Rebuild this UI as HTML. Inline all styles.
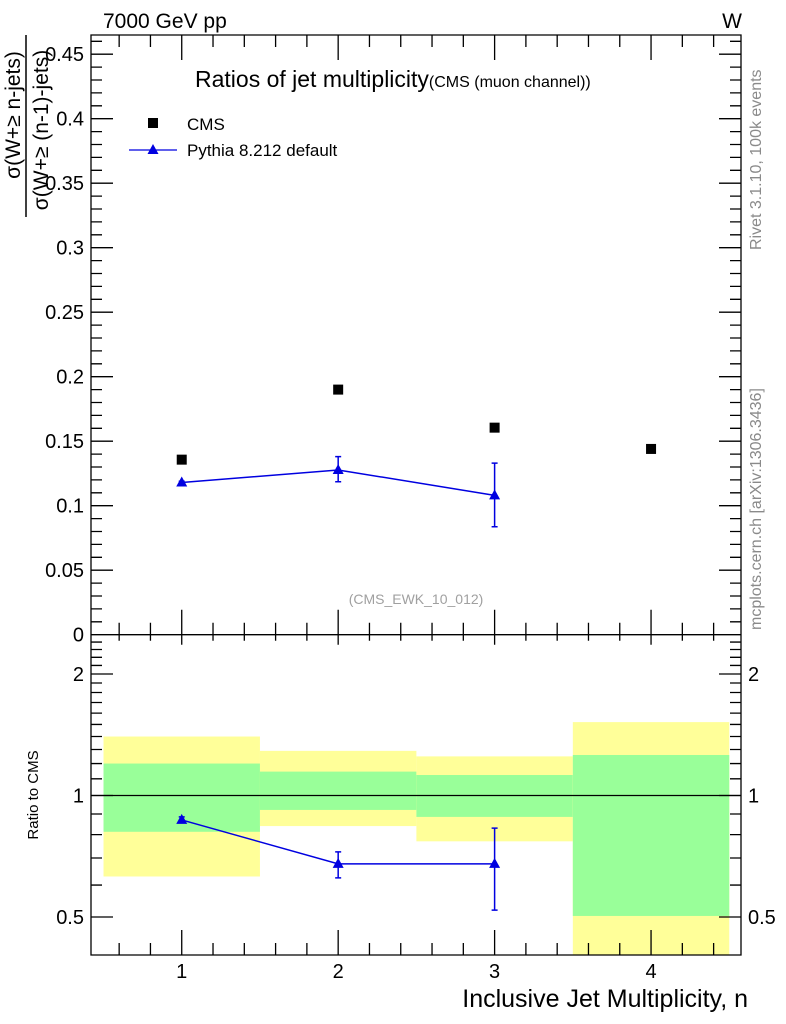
<!DOCTYPE html>
<html><head><meta charset="utf-8"><style>
body{margin:0;background:#fff;}
svg{display:block;font-family:"Liberation Sans",Arial,sans-serif;}
</style></head><body>
<svg id="chart" width="786" height="1024" viewBox="0 0 786 1024" xmlns="http://www.w3.org/2000/svg">
<g id="bands"></g>
<g id="marks"></g>
<g id="axes"></g>
<text x="103" y="28" font-size="21">7000 GeV pp</text>
<text x="742" y="28" font-size="21" text-anchor="end">W</text>
<text x="195" y="87" font-size="23">Ratios of jet multiplicity<tspan font-size="16">(CMS (muon channel))</tspan></text>
<rect x="148" y="118" width="10" height="10" fill="#000"/>
<text x="187" y="130" font-size="17">CMS</text>
<line x1="129" y1="150" x2="177" y2="150" stroke="#0000e0" stroke-width="1.3"/>
<polygon points="153,144 147.5,154 158.5,154" fill="#0000e0"/>
<text x="187" y="156" font-size="17">Pythia 8.212 default</text>
<text x="416" y="604" font-size="14" fill="#a0a0a0" text-anchor="middle">(CMS_EWK_10_012)</text>
<text transform="translate(761,250) rotate(-90)" font-size="16" fill="#8a8a8a">Rivet 3.1.10,  100k events</text>
<text transform="translate(761,630) rotate(-90)" font-size="16" fill="#8a8a8a">mcplots.cern.ch [arXiv:1306.3436]</text>
<text transform="translate(20,115) rotate(-90)" font-size="21" text-anchor="middle">σ(W+≥ n-jets)</text>
<line x1="26" y1="35" x2="26" y2="217" stroke="#000" stroke-width="1.5"/>
<text transform="translate(48,130) rotate(-90)" font-size="21" text-anchor="middle">σ(W+≥ (n-1)-jets)</text>
<text transform="translate(38,795) rotate(-90)" font-size="15" text-anchor="middle">Ratio to CMS</text>
<text x="748" y="1007" font-size="25" text-anchor="end">Inclusive Jet Multiplicity, n</text>
</svg>
<script>
const categories=[1,2,3,4];
const cmsValues=[0.1357,0.190,0.1605,0.144];
const pythiaValues=[0.118,0.1277,0.108];
const pythiaErrLo=[0.117,0.1186,0.0837];
const pythiaErrHi=[0.119,0.138,0.133];
const ratioValues=[0.87,0.677,0.677];
const ratioErrLo=[0.86,0.625,0.52];
const ratioErrHi=[0.885,0.725,0.83];
const greenLo=[0.813,0.921,0.885,0.503];
const greenHi=[1.20,1.146,1.124,1.26];
const yellowLo=[0.63,0.84,0.77,0.3];
const yellowHi=[1.40,1.29,1.25,1.52];
const mainTicks=[0,0.05,0.1,0.15,0.2,0.25,0.3,0.35,0.4,0.45];
const mainTickLabels=["0","0.05","0.1","0.15","0.2","0.25","0.3","0.35","0.4","0.45"];
const ratioTicks=[0.5,1,2];
const ratioTickLabels=["0.5","1","2"];

const L=91,R=741,T=35,MB=634.7,RB=955;
const xmin=0.42,xmax=4.575;
const X=v=>L+(v-xmin)/(xmax-xmin)*(R-L);
const Y=v=>MB-v*1290;
const RY=v=>795.5-Math.log2(v)*121.5;
const NS='http://www.w3.org/2000/svg';
function mk(parent,tag,attrs){const e=document.createElementNS(NS,tag);for(const k in attrs)e.setAttribute(k,attrs[k]);document.getElementById(parent).appendChild(e);return e;}

categories.forEach((c,i)=>{
 const x1=Math.max(X(c-0.5),L),x2=Math.min(X(c+0.5),R);
 const yt=RY(yellowHi[i]),yb=Math.min(RY(yellowLo[i]),RB);
 const y=mk('bands','rect',{x:x1,y:yt,width:x2-x1,height:yb-yt,fill:'#ffff99'});
 
 
 const gt=RY(greenHi[i]),gb=Math.min(RY(greenLo[i]),RB);
 const g=mk('bands','rect',{x:x1,y:gt,width:x2-x1,height:gb-gt,fill:'#99ff99'});
 
 
});
const one=mk('bands','line',{x1:L,x2:R,y1:RY(1),y2:RY(1),stroke:'#000','stroke-width':1.2});



cmsValues.forEach((v,i)=>{
 const r=mk('marks','rect',{x:X(categories[i])-5,y:Y(v)-5,width:10,height:10,fill:'#000'});
 
 
});
function series(vals,lo,hi,fy,name){
 const pts=vals.map((v,i)=>X(categories[i])+','+fy(v)).join(' ');
 const pl=mk('marks','polyline',{points:pts,fill:'none',stroke:'#0000e0','stroke-width':1.5});
 
 
 vals.forEach((v,i)=>{
  const x=X(categories[i]),y=fy(v),y1=fy(hi[i]),y2=fy(lo[i]);
  const e=mk('marks','path',{d:`M${x},${y1}V${y2}M${x-3},${y1}H${x+3}M${x-3},${y2}H${x+3}`,stroke:'#0000e0','stroke-width':1.5,fill:'none'});
  
  
  const t=mk('marks','polygon',{points:`${x},${y-6} ${x-5.5},${y+4} ${x+5.5},${y+4}`,fill:'#0000e0'});
  
  
 });
}
series(pythiaValues,pythiaErrLo,pythiaErrHi,Y,'pythia');
series(ratioValues,ratioErrLo,ratioErrHi,RY,'pythia-ratio');

const ax='axes';
let d=`M${L},${T}H${R}V${RB}H${L}Z M${L},${MB}H${R}`;
for(let k=0;k<=46;k++){const v=k*0.01,y=Y(v);if(y<T)continue;const len=k%5==0?22:11;d+=`M${L},${y}h${len}M${R},${y}h${-len}`;}
for(let k=0;k*0.2+0.6<=4.5;k++){const v=0.6+k*0.2;const x=X(v);const maj=Math.abs(v-Math.round(v))<1e-6;const len=maj?25:12;
 d+=`M${x},${T}v${len}M${x},${MB}v${-len}M${x},${MB}v${maj?10:6}M${x},${RB}v${-(maj?25:12)}`;}
const rminor=[0.4,0.5,0.6,0.7,0.8,0.9,1,1.1,1.2,1.3,1.4,1.5,1.6,1.7,1.8,1.9,2,2.1,2.2,2.3,2.4];
rminor.forEach(v=>{const y=RY(v);if(y<MB+2||y>RB)return;const len=ratioTicks.includes(v)?22:11;d+=`M${L},${y}h${len}M${R},${y}h${-len}`;});
const fr=mk(ax,'path',{d:d,stroke:'#000','stroke-width':1.3,fill:'none'});


mainTicks.forEach((v,i)=>{
 const t=mk(ax,'text',{x:L-7,y:Y(v)+7,'font-size':20,'text-anchor':'end'});
 t.textContent=mainTickLabels[i];
 
 
});
ratioTicks.forEach((v,i)=>{
 [[L-7,'end'],[R+7,'start']].forEach(([x,a])=>{
  const t=mk(ax,'text',{x:x,y:RY(v)+7,'font-size':20,'text-anchor':a});
  t.textContent=ratioTickLabels[i];
  
  
 });
});
categories.forEach(c=>{
 const t=mk(ax,'text',{x:X(c),y:978,'font-size':20,'text-anchor':'middle'});
 t.textContent=String(c);
 
 
});
</script>
</body></html>
